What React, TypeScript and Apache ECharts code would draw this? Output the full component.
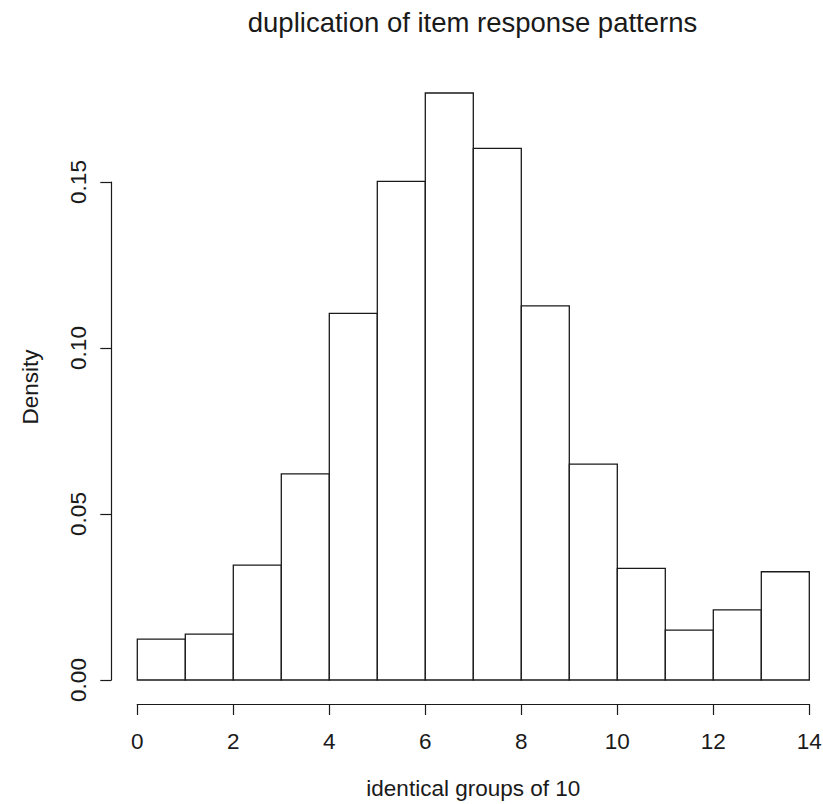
import React, { useEffect, useRef } from "react";
import * as echarts from "echarts";

const chartTitle = "duplication of item response patterns";
const xAxisTitle = "identical groups of 10";
const yAxisTitle = "Density";

// histogram bin edges (lower, upper) and densities
const binLower = [0, 1, 2, 3, 4, 5, 6, 7, 8, 9, 10, 11, 12, 13];
const binUpper = [1, 2, 3, 4, 5, 6, 7, 8, 9, 10, 11, 12, 13, 14];
const densities = [
  0.0123, 0.0138, 0.0346, 0.0621, 0.1104, 0.1502, 0.1768, 0.1601, 0.1127,
  0.065, 0.0336, 0.015, 0.0211, 0.0326,
];

const xMin = 0;
const xMax = 14;
const xStep = 2;
const yMin = 0;
const yMax = 0.15;
const yStep = 0.05;

const FONT = "'Liberation Sans', Arial, Helvetica, sans-serif";
const INK = "#1a1a1a";

export default function App() {
  const ref = useRef<HTMLDivElement>(null);

  useEffect(() => {
    document.body.style.margin = "0";
    if (!ref.current) return;
    const chart = echarts.init(ref.current, null, { renderer: "svg" });

    const data = binLower.map((lo, i) => [lo, binUpper[i], densities[i]]);

    chart.setOption({
      animation: false,
      backgroundColor: "#ffffff",
      grid: {
        left: 137.3,
        right: 13.7,
        top: 182,
        bottom: 124,
        containLabel: false,
        outerBoundsMode: "none",
      },
      xAxis: {
        type: "value",
        min: xMin,
        max: xMax,
        interval: xStep,
        position: "bottom",
        offset: 24,
        axisLine: { show: true, onZero: false, lineStyle: { color: INK, width: 1.2 } },
        axisTick: { show: true, length: 11, lineStyle: { color: INK, width: 1.2 } },
        axisLabel: {
          show: true,
          margin: 26,
          fontSize: 22.5,
          fontFamily: FONT,
          color: INK,
        },
        splitLine: { show: false },
        name: xAxisTitle,
        nameLocation: "middle",
        nameGap: 73,
        nameMoveOverlap: false,
        nameTextStyle: { fontSize: 22.5, fontFamily: FONT, color: INK },
      },
      yAxis: {
        type: "value",
        min: yMin,
        max: yMax,
        interval: yStep,
        position: "left",
        offset: 26,
        axisLine: { show: true, onZero: false, lineStyle: { color: INK, width: 1.2 } },
        axisTick: { show: true, length: 11, lineStyle: { color: INK, width: 1.2 } },
        axisLabel: {
          show: true,
          rotate: 90,
          margin: 21,
          fontSize: 22.5,
          fontFamily: FONT,
          color: INK,
          formatter: (v: number) => v.toFixed(2),
        },
        splitLine: { show: false },
      },
      graphic: [
        {
          type: "text",
          x: 472.5,
          y: 22,
          style: {
            text: chartTitle,
            font: `27.5px ${FONT}`,
            fill: INK,
            textAlign: "center",
            textVerticalAlign: "middle",
          },
        },
        {
          type: "text",
          x: 30,
          y: 387,
          rotation: Math.PI / 2,
          style: {
            text: yAxisTitle,
            font: `22.5px ${FONT}`,
            fill: INK,
            textAlign: "center",
            textVerticalAlign: "middle",
          },
        },
      ],
      series: [
        {
          type: "custom",
          clip: false,
          encode: { x: [0, 1], y: 2 },
          data,
          renderItem: (params: any, api: any) => {
            const lo = api.value(0);
            const hi = api.value(1);
            const v = api.value(2);
            const p0 = api.coord([lo, 0]);
            const p1 = api.coord([hi, v]);
            return {
              type: "rect",
              shape: {
                x: p0[0],
                y: p1[1],
                width: p1[0] - p0[0],
                height: p0[1] - p1[1],
              },
              style: { fill: "#ffffff", stroke: INK, lineWidth: 1.3 },
            };
          },
        },
      ],
    });

    return () => chart.dispose();
  }, []);

  return <div ref={ref} style={{ width: 823, height: 804 }} />;
}
